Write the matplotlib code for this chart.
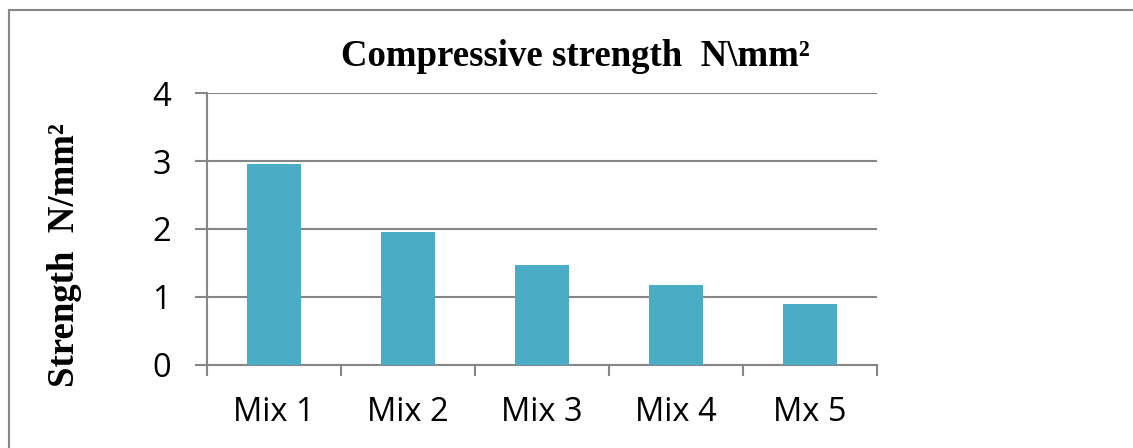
import matplotlib
matplotlib.use("Agg")
import matplotlib.pyplot as plt
from matplotlib.patches import Rectangle

# data
mixes = ["Mix 1", "Mix 2", "Mix 3", "Mix 4", "Mx 5"]
strength = [2.95, 1.96, 1.47, 1.18, 0.9]
yticks = [0, 1, 2, 3, 4]

BAR = "#4BACC6"
GREY = "#868686"

fig = plt.figure(figsize=(11.33, 4.48), dpi=100)
ax = fig.add_axes([0.1827, 0.1853, 0.5914, 0.6071])

x = list(range(len(mixes)))
ax.bar(x, strength, width=0.4, color=BAR, zorder=3)

ax.set_xlim(-0.5, len(mixes) - 0.5)
ax.set_ylim(0, 4)
ax.set_yticks(yticks)
ax.yaxis.grid(True, color=GREY, linewidth=1.5, zorder=0)

# category ticks sit between the bars, labels under the bars
ax.set_xticks([i - 0.5 for i in range(len(mixes) + 1)])
ax.set_xticklabels([])
ax.set_xticks(x, minor=True)
ax.set_xticklabels(mixes, minor=True)
ax.tick_params(axis="x", which="major", length=8, width=1.5, color=GREY, direction="out")
ax.tick_params(axis="x", which="minor", length=0, pad=22)
ax.tick_params(axis="y", length=9, width=1.5, color=GREY, pad=17)

for lab in ax.get_xticklabels(minor=True) + ax.get_yticklabels():
    lab.set_fontfamily("Open Sans")
    lab.set_fontsize(23.5)

for side in ["top", "right"]:
    ax.spines[side].set_visible(False)
for side in ["left", "bottom"]:
    ax.spines[side].set_color(GREY)
    ax.spines[side].set_linewidth(1.5)

fig.text(0.508, 0.875, "Compressive strength  N\\mm²", ha="center", va="center",
         fontsize=26.5, fontweight="bold", family="Liberation Serif")
fig.text(0.057, 0.431, "Strength  N/mm²", ha="center", va="center", rotation=90,
         fontsize=26.5, fontweight="bold", family="Liberation Serif")

# outer chart border
fig.patches.append(Rectangle((9 / 1133, -0.05), 1.1, 0.05 + 438 / 448,
                             transform=fig.transFigure, fill=False,
                             edgecolor=GREY, linewidth=1.5))

fig.savefig("out.png", dpi=100)
